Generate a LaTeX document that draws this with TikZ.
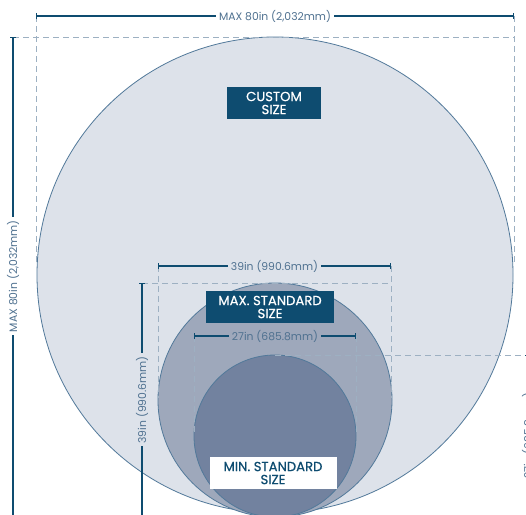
\documentclass[tikz,border=0pt]{standalone}
\usepackage{fontspec}
\setmainfont{Poppins}
\newfontfamily\boxfont[FakeBold=0.6]{Poppins}
\usetikzlibrary{arrows.meta}
\definecolor{navy}{HTML}{0E4C70}
\definecolor{dimtxt}{HTML}{4F7190}
\definecolor{guidegray}{HTML}{9DB0C2}
\definecolor{bigfill}{HTML}{DDE2EA}
\definecolor{maxfill}{HTML}{9EA8BB}
\definecolor{minfill}{HTML}{72829F}
\definecolor{rim}{HTML}{52799A}

\begin{document}
\begin{tikzpicture}[x=1pt,y=-1pt,
    dimline/.style={draw=navy,line width=1.1pt,{Bar[width=6pt]}-{Bar[width=6pt]}},
    dimdown/.style={draw=navy,line width=1.1pt,{Bar[width=6pt]}-},
    guide/.style={draw=guidegray,line width=0.9pt,dash pattern=on 6pt off 4pt},
    dimlabel/.style={text=dimtxt,font=\fontsize{10.8}{11}\selectfont,inner sep=3pt},
    sizebox/.style={fill=navy,text=white,font=\boxfont\fontsize{13.2}{13}\selectfont,align=center,minimum height=32pt,inner sep=0pt}]
            \useasboundingbox (0,0) rectangle (526,514);
            \fill[white] (0,0) rectangle (526,514);
            \filldraw[fill=bigfill,draw=rim,line width=0.8pt] (275,275) circle (238pt);
            \filldraw[fill=maxfill,draw=rim,line width=0.8pt] (275,400) circle (117pt);
            \filldraw[fill=minfill,draw=rim,line width=0.8pt] (275,436) circle (81pt);
            \coordinate (bigL) at (36,16);
            \coordinate (bigR) at (514,16);
            \coordinate (bigT) at (13,37);
            \coordinate (bigB) at (13,530);
            \coordinate (maxL) at (158,266);
            \coordinate (maxR) at (391,266);
            \coordinate (maxT) at (142,283);
            \coordinate (maxB) at (142,530);
            \coordinate (minL) at (194,336);
            \coordinate (minR) at (356,336);
            \coordinate (minT) at (528,355);
            \coordinate (minB) at (528,530);
            \draw[guide] (bigT) -- (bigR |- bigT);
            \draw[guide] (bigL) -- (36,262);
            \draw[guide] (bigR) -- (514,262);
            \draw[guide] (maxT) -- (maxR |- maxT);
            \draw[guide] (maxL) -- (158,398);
            \draw[guide] (maxR) -- (391,398);
            \draw[guide] (275,355) -- (minT);
            \draw[guide] (minL) -- (194,435);
            \draw[guide] (minR) -- (356,435);
            \draw[dimline] (bigL) -- (bigR) node[midway,fill=white,dimlabel] (wbig) {MAX 80in (2,032mm)};
            \draw[dimdown] (bigT) -- (bigB) node[pos=0.485,fill=white,dimlabel,rotate=90] (hbig) {MAX 80in (2,032mm)};
            \draw[dimline] (maxL) -- (maxR) node[midway,fill=bigfill,dimlabel] (wmax) {39in (990.6mm)};
            \draw[dimdown] (maxT) -- (maxB) node[pos=0.473,fill=bigfill,dimlabel,rotate=90] (hmax) {39in (990.6mm)};
            \draw[dimline] (minL) -- (minR) node[midway,fill=maxfill,dimlabel] (wmin) {27in (685.8mm)};
            \draw[dimdown] (minT) -- (minB) node[pos=0.46,fill=white,dimlabel,rotate=90] (hmin) {27in (685.8mm)};
            \node[sizebox,minimum width=94pt] (custom) at (274,103) {CUSTOM\\SIZE};
            \node[sizebox,minimum width=128pt] (maxstd) at (270,307) {MAX. STANDARD\\SIZE};
            \node[sizebox,minimum width=127pt,fill=white,text=navy] (minstd) at (273,473) {MIN. STANDARD\\SIZE};
        \end{tikzpicture}
\end{document}
